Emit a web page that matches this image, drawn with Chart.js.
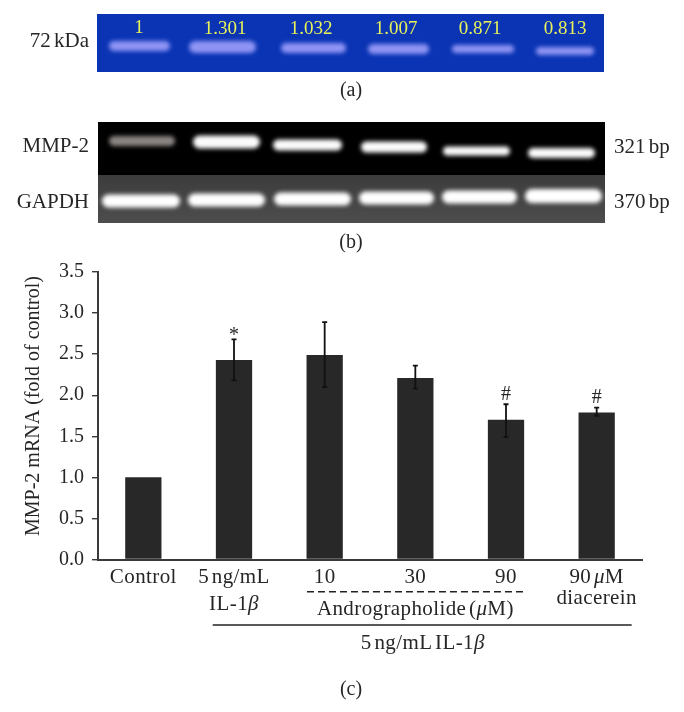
<!DOCTYPE html>
<html>
<head>
<meta charset="utf-8">
<style>
  html, body { margin: 0; background: #fff; }
  canvas { display: block; }
</style>
<script src="https://cdn.jsdelivr.net/npm/chart.js@4"></script>
</head>
<body>
<canvas id="mmpChart" width="684" height="712"></canvas>
<script>
const categories = ['Control', ['5 ng/mL', 'IL-1β'], '10', '30', '90', ['90 μM', 'diacerein']];
const foldValues = [1.0, 2.43, 2.49, 2.21, 1.70, 1.79];
const errLow = [null, 2.18, 2.10, 2.08, 1.49, 1.75];
const errHigh = [null, 2.68, 2.89, 2.36, 1.89, 1.85];
const sigMarks = ['', '*', '', '', '#', '#'];
const yTicks = [0, 0.5, 1, 1.5, 2, 2.5, 3, 3.5];
const densityLabels = ['1', '1.301', '1.032', '1.007', '0.871', '0.813'];

const SERIF = '"Liberation Serif", serif';
const INK = '#262626';

// plain text, but greek letters go in italic like the original
function drawMixed(ctx, text, cx, cy, size) {
    const parts = text.split(/([βμ])/).filter(p => p);
    const fontFor = p => (p === 'β' || p === 'μ' ? 'italic ' : '') + size + 'px ' + SERIF;
    let total = 0;
    parts.forEach(p => { ctx.font = fontFor(p); total += ctx.measureText(p).width; });
    let x = cx - total / 2;
    ctx.textAlign = 'left';
    ctx.textBaseline = 'middle';
    parts.forEach(p => {
        ctx.font = fontFor(p);
        ctx.fillText(p, x, cy);
        x += ctx.measureText(p).width;
    });
}

function glowBand(ctx, left, right, cy, h, color) {
    ctx.save();
    ctx.filter = 'blur(2px)';
    ctx.fillStyle = color;
    ctx.beginPath();
    ctx.roundRect(left + 2, cy - h / 2, right - left - 4, h, h / 2);
    ctx.fill();
    ctx.restore();
}

const gelPanels = {
    id: 'gelPanels',
    beforeDraw(chart) {
        const ctx = chart.ctx;
        ctx.save();

        // (a) zymogram
        ctx.fillStyle = '#0a34b4';
        ctx.fillRect(97, 14, 507, 58);
        [[107, 172, 46, 10], [187, 258, 47, 12], [279, 348, 48, 10], [366, 431, 49, 10], [450, 516, 49, 8], [534, 596, 51, 8]]
            .forEach(b => glowBand(ctx, b[0], b[1], b[2], b[3], '#8f94f4'));
        ctx.fillStyle = '#e9f25a';
        ctx.textAlign = 'center';
        ctx.textBaseline = 'middle';
        ctx.font = '19px ' + SERIF;
        [139, 225, 311, 396, 480, 565].forEach((x, i) => {
            ctx.fillText(densityLabels[i], x, i === 0 ? 28 : 29);
        });

        // (b) RT-PCR bands
        ctx.fillStyle = '#000';
        ctx.fillRect(98, 122, 507, 53);
        const lower = ctx.createLinearGradient(0, 175, 0, 223);
        lower.addColorStop(0, '#3c3c3c');
        lower.addColorStop(1, '#4d4d4d');
        ctx.fillStyle = lower;
        ctx.fillRect(98, 175, 507, 48);

        glowBand(ctx, 107, 177, 141, 10, '#8a8583');
        [[191, 262, 142, 13], [271, 344, 145, 11], [359, 429, 147, 11], [441, 512, 151, 9], [526, 597, 153, 10]]
            .forEach(b => glowBand(ctx, b[0], b[1], b[2], b[3], '#fbfbfb'));
        [[100, 182, 201, 13], [186, 267, 200, 13], [272, 353, 199, 13], [357, 436, 198, 13], [440, 519, 197, 13], [523, 604, 196, 14]]
            .forEach(b => glowBand(ctx, b[0], b[1], b[2], b[3], '#ffffff'));

        ctx.fillStyle = INK;
        ctx.font = '21px ' + SERIF;
        ctx.wordSpacing = '-2px';
        ctx.textBaseline = 'middle';
        ctx.textAlign = 'right';
        ctx.fillText('72 kDa', 89, 41);
        ctx.fillText('MMP-2', 89, 146);
        ctx.fillText('GAPDH', 89, 202);
        ctx.textAlign = 'left';
        ctx.fillText('321 bp', 614, 147);
        ctx.fillText('370 bp', 614, 202);
        ctx.font = '20px ' + SERIF;
        ctx.textAlign = 'center';
        ctx.fillText('(a)', 351, 91);
        ctx.fillText('(b)', 351, 243);
        ctx.restore();
    }
};

const barExtras = {
    id: 'barExtras',
    afterDatasetsDraw(chart) {
        const ctx = chart.ctx;
        const xs = chart.scales.x;
        const ys = chart.scales.y;
        ctx.save();

        // error bars and significance marks
        ctx.strokeStyle = '#111';
        foldValues.forEach((v, i) => {
            if (errHigh[i] === null) return;
            const x = xs.getPixelForValue(i);
            const top = ys.getPixelForValue(errHigh[i]);
            const bot = ys.getPixelForValue(errLow[i]);
            ctx.lineWidth = 1.8;
            ctx.beginPath();
            ctx.moveTo(x, top);
            ctx.lineTo(x, bot);
            ctx.moveTo(x - 2.5, top);
            ctx.lineTo(x + 2.5, top);
            ctx.moveTo(x - 2.5, bot);
            ctx.lineTo(x + 2.5, bot);
            ctx.stroke();
            if (sigMarks[i]) {
                ctx.fillStyle = INK;
                ctx.font = '20px ' + SERIF;
                ctx.textAlign = 'center';
                ctx.textBaseline = 'middle';
                ctx.fillText(sigMarks[i], x, top - (sigMarks[i] === '*' ? 4 : 10));
            }
        });

        // y title, off-centre against the axis in the original
        ctx.save();
        ctx.translate(34, 406);
        ctx.rotate(-Math.PI / 2);
        ctx.font = '20px ' + SERIF;
        ctx.fillStyle = INK;
        ctx.textAlign = 'center';
        ctx.textBaseline = 'middle';
        ctx.fillText('MMP-2 mRNA (fold of control)', 0, 0);
        ctx.restore();

        // category labels, by hand because of the italic greek
        ctx.fillStyle = INK;
        ctx.wordSpacing = '-3px';
        ctx.letterSpacing = '0.4px';
        categories.forEach((label, i) => {
            const x = xs.getPixelForValue(i);
            const lines = Array.isArray(label) ? label : [label];
            const gap = i === 5 ? 21 : 27.5;
            lines.forEach((line, k) => drawMixed(ctx, line, x, 577 + k * gap, 21));
        });

        // group brackets under the axis
        ctx.strokeStyle = '#222';
        ctx.lineWidth = 1.4;
        ctx.setLineDash([7, 4]);
        ctx.beginPath();
        ctx.moveTo(xs.getPixelForValue(2) - 17.7, 591.7);
        ctx.lineTo(xs.getPixelForValue(4) + 18, 591.7);
        ctx.stroke();
        ctx.setLineDash([]);
        ctx.beginPath();
        ctx.moveTo(xs.getPixelForValue(1) - 21.3, 625);
        ctx.lineTo(xs.getPixelForValue(5) + 35, 625);
        ctx.stroke();

        drawMixed(ctx, 'Andrographolide (μM)', xs.getPixelForValue(3), 609, 21);
        drawMixed(ctx, '5 ng/mL IL-1β', xs.getPixelForValue(3) + 7.5, 643, 21);
        ctx.letterSpacing = '0px';
        drawMixed(ctx, '(c)', 351, 690, 20);
        ctx.restore();
    }
};

new Chart(document.getElementById('mmpChart'), {
    type: 'bar',
    data: {
        labels: categories,
        datasets: [{
            data: foldValues,
            backgroundColor: '#282828',
            borderWidth: 0,
            barPercentage: 0.4,
            categoryPercentage: 1
        }]
    },
    options: {
        responsive: false,
        animation: false,
        layout: { padding: { top: 272, right: 42, left: 0, bottom: 0 } },
        plugins: { legend: { display: false }, tooltip: { enabled: false } },
        scales: {
            x: {
                grid: { display: false },
                border: { color: '#3a3a3a', width: 2 },
                ticks: { display: false },
                afterFit: s => { s.height = 152.5; }
            },
            y: {
                min: 0,
                max: 3.5,
                afterFit: s => { s.width = 98; },
                afterBuildTicks: s => { s.ticks = yTicks.map(value => ({ value })); },
                grid: { drawOnChartArea: false, color: '#3a3a3a', tickLength: 6, lineWidth: 1.4 },
                border: { color: '#3a3a3a', width: 2 },
                ticks: {
                    color: INK,
                    padding: 8,
                    font: { family: SERIF, size: 20 },
                    callback: v => v.toFixed(1)
                }
            }
        }
    },
    plugins: [gelPanels, barExtras]
});
</script>
</body>
</html>
